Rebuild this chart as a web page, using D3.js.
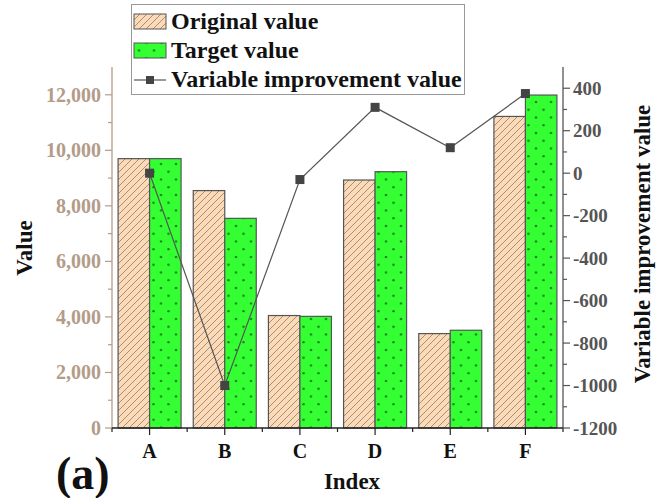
<!DOCTYPE html>
<meta charset="utf-8">
<html>
<head>
    <title>Index values</title>
</head>
<style type="text/css">
    body{ margin:0; background:#fff; }
    text{ font-family: "Liberation Serif", "Times New Roman", serif; font-weight: bold; }
</style>
<script src="https://cdn.jsdelivr.net/npm/d3@7"></script>
<body>
<script type="text/javascript">
var categories = ["A", "B", "C", "D", "E", "F"]
var originalValues = [9700, 8550, 4050, 8930, 3400, 11220]
var targetValues = [9700, 7550, 4020, 9230, 3520, 11990]
var improvementValues = [0, -1000, -30, 310, 120, 375]
var leftTicks = [0, 2000, 4000, 6000, 8000, 10000, 12000]
var rightTicks = [-1200, -1000, -800, -600, -400, -200, 0, 200, 400]

var svgWidth = 664, svgHeight = 498
var margin = {top: 67, right: 101, bottom: 70, left: 112}
var width = svgWidth - margin.left - margin.right
var height = svgHeight - margin.top - margin.bottom

var tan = "#b39c88", grey = "#555"

var svg = d3.select("body").append("svg")
    .attr("width", svgWidth).attr("height", svgHeight)

// patterns
var defs = svg.append("defs")
var hatch = defs.append("pattern").attr("id", "hatch")
    .attr("patternUnits", "userSpaceOnUse").attr("width", 7).attr("height", 7)
hatch.append("rect").attr("width", 7).attr("height", 7).attr("fill", "#fcd9b7")
hatch.append("path").attr("d", "M-1,8 L8,-1 M-4,4 L4,-4 M3,11 L11,3")
    .attr("stroke", "#7d6e60").attr("stroke-width", 0.7)
var dots = defs.append("pattern").attr("id", "dots")
    .attr("patternUnits", "userSpaceOnUse").attr("width", 15).attr("height", 15.5)
dots.append("rect").attr("width", 15).attr("height", 15.5).attr("fill", "#33ff33")
dots.selectAll("ellipse").data([[4, 4], [11.5, 11.75]]).enter().append("ellipse")
    .attr("cx", d => d[0]).attr("cy", d => d[1]).attr("rx", 1.4).attr("ry", 1.1)
    .attr("fill", "#1d7d1d")

var g = svg.append("g").attr("transform", "translate(" + margin.left + "," + margin.top + ")")

var x = d3.scaleBand().domain(categories).range([0, width]).padding(0)
var y = d3.scaleLinear().domain([0, 13000]).range([height, 0])
var y2 = d3.scaleLinear().domain([-1200, 500]).range([height, 0])
var barW = 31.5

var data = categories.map((c, i) => ({cat: c, orig: originalValues[i], target: targetValues[i], imp: improvementValues[i]}))

// bars
g.selectAll(".orig").data(data).enter().append("rect")
    .attr("class", "orig")
    .attr("x", d => x(d.cat) + x.bandwidth() / 2 - barW)
    .attr("width", barW)
    .attr("y", d => y(d.orig))
    .attr("height", d => height - y(d.orig))
    .attr("fill", "url(#hatch)").attr("stroke", grey).attr("stroke-width", 1.2)
g.selectAll(".target").data(data).enter().append("rect")
    .attr("class", "target")
    .attr("x", d => x(d.cat) + x.bandwidth() / 2)
    .attr("width", barW)
    .attr("y", d => y(d.target))
    .attr("height", d => height - y(d.target))
    .attr("fill", "url(#dots)").attr("stroke", grey).attr("stroke-width", 1.2)

// improvement line
var line = d3.line().x(d => x(d.cat) + x.bandwidth() / 2).y(d => y2(d.imp))
g.append("path").datum(data).attr("d", line)
    .attr("fill", "none").attr("stroke", grey).attr("stroke-width", 1.2)
g.selectAll(".mark").data(data).enter().append("rect")
    .attr("class", "mark")
    .attr("x", d => x(d.cat) + x.bandwidth() / 2 - 4.5)
    .attr("y", d => y2(d.imp) - 4.5)
    .attr("width", 9).attr("height", 9).attr("fill", "#444")

// left axis
var yAxis = g.append("g")
yAxis.append("line").attr("x1", 0).attr("x2", 0).attr("y1", 0).attr("y2", height)
    .attr("stroke", tan).attr("stroke-width", 1.3)
yAxis.selectAll(".minor").data(d3.range(1000, 13000, 2000)).enter().append("line")
    .attr("x1", -4).attr("x2", 0).attr("y1", d => y(d)).attr("y2", d => y(d))
    .attr("stroke", tan).attr("stroke-width", 1.2)
yAxis.selectAll(".major").data(leftTicks).enter().append("line")
    .attr("x1", -7).attr("x2", 0).attr("y1", d => y(d)).attr("y2", d => y(d))
    .attr("stroke", tan).attr("stroke-width", 1.2)
yAxis.selectAll("text").data(leftTicks).enter().append("text")
    .attr("x", -11).attr("y", d => y(d)).attr("dy", "0.35em")
    .attr("text-anchor", "end").attr("fill", tan).style("font-size", "20px")
    .text(d => d3.format(",")(d))

// right axis
var y2Axis = g.append("g").attr("transform", "translate(" + width + ",0)")
y2Axis.append("line").attr("x1", 0).attr("x2", 0).attr("y1", 0).attr("y2", height)
    .attr("stroke", grey).attr("stroke-width", 1.3)
y2Axis.selectAll(".minor").data(d3.range(-1100, 500, 200)).enter().append("line")
    .attr("x1", 0).attr("x2", 4).attr("y1", d => y2(d)).attr("y2", d => y2(d))
    .attr("stroke", grey).attr("stroke-width", 1.2)
y2Axis.selectAll(".major").data(rightTicks).enter().append("line")
    .attr("x1", 0).attr("x2", 7).attr("y1", d => y2(d)).attr("y2", d => y2(d))
    .attr("stroke", grey).attr("stroke-width", 1.2)
y2Axis.selectAll("text").data(rightTicks).enter().append("text")
    .attr("x", 10).attr("y", d => y2(d)).attr("dy", "0.35em")
    .attr("fill", grey).style("font-size", "19px")
    .text(d => d)

// bottom axis
var xAxis = g.append("g").attr("transform", "translate(0," + height + ")")
xAxis.append("line").attr("x1", 0).attr("x2", width).attr("stroke", "#222").attr("stroke-width", 1.5)
xAxis.selectAll(".minor").data(d3.range(categories.length + 1)).enter().append("line")
    .attr("x1", d => d * x.bandwidth()).attr("x2", d => d * x.bandwidth())
    .attr("y1", 0).attr("y2", 4).attr("stroke", "#222").attr("stroke-width", 1.2)
xAxis.selectAll(".major").data(categories).enter().append("line")
    .attr("x1", d => x(d) + x.bandwidth() / 2).attr("x2", d => x(d) + x.bandwidth() / 2)
    .attr("y1", 0).attr("y2", 7).attr("stroke", "#222").attr("stroke-width", 1.2)
xAxis.selectAll("text").data(categories).enter().append("text")
    .attr("x", d => x(d) + x.bandwidth() / 2).attr("y", 30)
    .attr("text-anchor", "middle").attr("fill", "#111").style("font-size", "20px")
    .text(d => d)

// titles
svg.append("text").attr("transform", "translate(32,248) rotate(-90)")
    .attr("text-anchor", "middle").style("font-size", "23px").attr("fill", "#111").text("Value")
svg.append("text").attr("transform", "translate(650,244) rotate(-90)")
    .attr("text-anchor", "middle").style("font-size", "23px").attr("fill", "#111").text("Variable improvement value")
svg.append("text").attr("x", 352).attr("y", 489)
    .attr("text-anchor", "middle").style("font-size", "23px").attr("fill", "#111").text("Index")
svg.append("text").attr("x", 56).attr("y", 489)
    .style("font-size", "46px").attr("fill", "#111").text("(a)")

// legend
var legend = svg.append("g")
legend.append("rect").attr("x", 131.5).attr("y", 4.5).attr("width", 333).attr("height", 90)
    .attr("fill", "#fff").attr("stroke", "#999").attr("stroke-width", 1)
legend.append("rect").attr("x", 134).attr("y", 14).attr("width", 32).attr("height", 15)
    .attr("fill", "url(#hatch)").attr("stroke", grey).attr("stroke-width", 1)
legend.append("rect").attr("x", 134).attr("y", 43).attr("width", 32).attr("height", 15)
    .attr("fill", "url(#dots)").attr("stroke", grey).attr("stroke-width", 1)
legend.append("line").attr("x1", 134).attr("x2", 166).attr("y1", 80).attr("y2", 80)
    .attr("stroke", grey).attr("stroke-width", 1.2)
legend.append("rect").attr("x", 146).attr("y", 76).attr("width", 8).attr("height", 8).attr("fill", "#444")
legend.selectAll(".lt").data(["Original value", "Target value", "Variable improvement value"]).enter()
    .append("text").attr("class", "lt")
    .attr("x", 171).attr("y", (d, i) => 29 + i * 29)
    .style("font-size", "24px").attr("fill", "#111").text(d => d)
</script>
</body>
</html>
